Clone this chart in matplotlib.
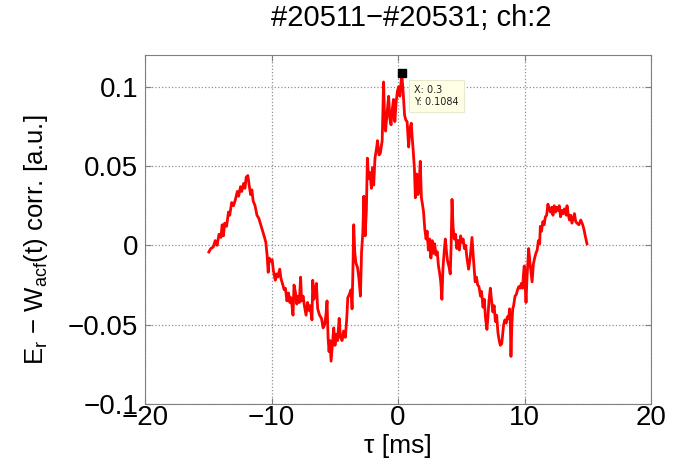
import matplotlib
matplotlib.use('Agg')
import matplotlib.pyplot as plt

# lag [ms] and correlation
tau = [-14.95, -14.8, -14.6, -14.45, -14.3, -14.15, -14.0, -13.9, -13.8, -13.7,
       -13.55, -13.4, -13.3, -13.15, -13.0, -12.85, -12.7, -12.6, -12.45, -12.35,
       -12.2, -12.1, -12.0, -11.87, -11.75, -11.65, -11.55, -11.45, -11.3, -11.15,
       -11.0, -10.85, -10.7, -10.55, -10.45, -10.35, -10.26, -10.18, -10.05, -9.95,
       -9.85, -9.7, -9.6, -9.5, -9.35, -9.25, -9.1, -9.0, -8.9, -8.78,
       -8.65, -8.55, -8.45, -8.3, -8.22, -8.1, -8.0, -7.9, -7.8, -7.7,
       -7.62, -7.5, -7.4, -7.27, -7.15, -7.05, -6.95, -6.8, -6.74, -6.65,
       -6.55, -6.45, -6.35, -6.2, -6.05, -5.92, -5.8, -5.7, -5.61, -5.53,
       -5.45, -5.38, -5.29, -5.2, -5.08, -4.98, -4.88, -4.78, -4.65, -4.55,
       -4.42, -4.3, -4.16, -4.05, -3.97, -3.85, -3.71, -3.63, -3.56, -3.5,
       -3.42, -3.33, -3.2, -3.1, -2.97, -2.88, -2.78, -2.7, -2.6, -2.5,
       -2.42, -2.32, -2.22, -2.1, -2.0, -1.92, -1.82, -1.7, -1.62, -1.5,
       -1.4, -1.25, -1.14, -1.05, -0.98, -0.88, -0.74, -0.65, -0.55, -0.45,
       -0.35, -0.25, -0.15, -0.05, 0.05, 0.15, 0.3, 0.42, 0.52, 0.62,
       0.72, 0.84, 0.95, 1.05, 1.12, 1.2, 1.3, 1.37, 1.48, 1.58,
       1.68, 1.76, 1.85, 1.95, 2.02, 2.12, 2.22, 2.3, 2.4, 2.5,
       2.6, 2.7, 2.8, 2.9, 3.0, 3.1, 3.2, 3.3, 3.38, 3.47,
       3.55, 3.65, 3.74, 3.82, 3.92, 4.02, 4.13, 4.2, 4.27, 4.35,
       4.45, 4.55, 4.65, 4.75, 4.85, 4.95, 5.05, 5.15, 5.25, 5.35,
       5.45, 5.58, 5.7, 5.85, 5.95, 6.1, 6.2, 6.3, 6.4, 6.52,
       6.6, 6.72, 6.82, 6.92, 7.03, 7.12, 7.2, 7.3, 7.4, 7.5,
       7.6, 7.7, 7.8, 7.9, 8.0, 8.09, 8.2, 8.35, 8.45, 8.55,
       8.65, 8.75, 8.82, 8.88, 8.93, 9.0, 9.07, 9.14, 9.25, 9.35,
       9.45, 9.55, 9.65, 9.75, 9.85, 9.92, 9.98, 10.05, 10.12, 10.2,
       10.33, 10.42, 10.52, 10.6, 10.7, 10.8, 10.9, 11.0, 11.1, 11.2,
       11.25, 11.35, 11.45, 11.55, 11.65, 11.75, 11.85, 11.95, 12.05, 12.15,
       12.25, 12.35, 12.45, 12.55, 12.65, 12.75, 12.85, 12.95, 13.05, 13.15,
       13.3, 13.36, 13.45, 13.55, 13.65, 13.75, 13.85, 13.95, 14.05, 14.15,
       14.3, 14.45, 14.6, 14.7, 14.8, 14.94]
corr = [-0.0042, -0.002, -0.001, 0.003, 0.0, 0.007, 0.005, 0.013, 0.006, 0.014,
        0.012, 0.021, 0.019, 0.027, 0.025, 0.029, 0.034, 0.031, 0.037, 0.034,
        0.039, 0.036, 0.043, 0.044, 0.037, 0.032, 0.035, 0.028, 0.025, 0.019,
        0.017, 0.013, 0.009, 0.005, 0.002, -0.006, -0.017, -0.008, -0.010, -0.009,
        -0.016, -0.022, -0.018, -0.020, -0.015, -0.021, -0.025, -0.028, -0.027, -0.035,
        -0.030, -0.036, -0.033, -0.044, -0.025, -0.030, -0.037, -0.032, -0.036, -0.020,
        -0.035, -0.032, -0.038, -0.044, -0.036, -0.041, -0.038, -0.047, -0.022, -0.034,
        -0.028, -0.024, -0.040, -0.044, -0.046, -0.052, -0.050, -0.044, -0.035, -0.058,
        -0.067, -0.060, -0.073, -0.064, -0.052, -0.063, -0.056, -0.060, -0.046, -0.058,
        -0.060, -0.054, -0.058, -0.046, -0.033, -0.031, -0.028, -0.040, -0.014, 0.013,
        -0.004, -0.011, -0.014, -0.020, -0.032, -0.004, 0.008, 0.031, 0.006, 0.022,
        0.055, 0.042, 0.046, 0.036, 0.049, 0.038, 0.055, 0.061, 0.066, 0.057,
        0.058, 0.066, 0.103, 0.076, 0.072, 0.082, 0.094, 0.080, 0.076, 0.086,
        0.092, 0.078, 0.090, 0.097, 0.100, 0.094, 0.1084, 0.095, 0.082, 0.079,
        0.078, 0.062, 0.074, 0.077, 0.068, 0.060, 0.048, 0.030, 0.045, 0.032,
        0.040, 0.053, 0.030, 0.025, 0.021, 0.010, 0.004, 0.009, -0.003, 0.004,
        -0.008, 0.003, -0.005, 0.001, -0.006, -0.004, -0.013, -0.018, -0.023, -0.034,
        -0.015, -0.004, 0.004, -0.003, -0.010, -0.013, -0.018, 0.0, 0.029, 0.012,
        0.004, 0.007, -0.002, 0.003, -0.003, 0.006, 0.002, 0.004, -0.002, 0.0,
        -0.008, -0.015, -0.008, 0.005, -0.007, -0.023, -0.020, -0.025, -0.026, -0.032,
        -0.029, -0.039, -0.034, -0.046, -0.053, -0.044, -0.034, -0.027, -0.035, -0.042,
        -0.038, -0.048, -0.044, -0.055, -0.060, -0.063, -0.062, -0.050, -0.047, -0.049,
        -0.045, -0.046, -0.040, -0.050, -0.070, -0.050, -0.040, -0.038, -0.032, -0.031,
        -0.028, -0.026, -0.027, -0.024, -0.027, -0.018, -0.013, -0.025, -0.036, -0.020,
        -0.002, -0.010, -0.017, -0.023, -0.012, -0.008, -0.005, -0.003, 0.003, 0.001,
        0.012, 0.009, 0.015, 0.013, 0.018, 0.019, 0.026, 0.023, 0.021, 0.024,
        0.019, 0.025, 0.021, 0.024, 0.022, 0.025, 0.018, 0.022, 0.020, 0.023,
        0.019, 0.025, 0.020, 0.016, 0.019, 0.014, 0.017, 0.020, 0.015, 0.014,
        0.013, 0.016, 0.013, 0.010, 0.006, 0.001]

xticks = [-20, -10, 0, 10, 20]
xticklabels = ['\u221220', '\u221210', '0', '10', '20']
yticks = [-0.1, -0.05, 0, 0.05, 0.1]
yticklabels = ['\u22120.1', '\u22120.05', '0', '0.05', '0.1']
tip_x, tip_y = 0.3, 0.1084

plt.rcParams['font.family'] = ['Liberation Sans', 'DejaVu Sans']
plt.rcParams['mathtext.fontset'] = 'custom'
plt.rcParams['mathtext.rm'] = 'Liberation Sans'

fig = plt.figure(figsize=(6.87, 4.71), dpi=100)
ax = fig.add_axes([145/687, 1-404/471, 506/687, 349/471])

ax.plot(tau, corr, color='red', lw=2)
ax.plot([tip_x], [tip_y], 's', color='black', ms=6, zorder=5)
ax.annotate('X: 0.3\nY: 0.1084', xy=(tip_x, tip_y), xytext=(9, -8),
            textcoords='offset points', ha='left', va='top', fontsize=7,
            family='DejaVu Sans', color='#202020', linespacing=1.35,
            bbox=dict(boxstyle='square,pad=0.5', fc='#ffffe6', ec='#e8e8d0', lw=0.8))

ax.set_xlim(-20, 20)
ax.set_ylim(-0.1, 0.12)
ax.set_xticks(xticks)
ax.set_xticklabels(xticklabels)
ax.set_yticks(yticks)
ax.set_yticklabels(yticklabels)
ax.tick_params(axis='both', direction='in', length=4, labelsize=20, color='#808080',
               top=True, right=True)
ax.tick_params(axis='x', pad=1)
ax.tick_params(axis='y', pad=5)
ax.grid(True, ls=':', color='#909090', lw=0.9)
for s in ax.spines.values():
    s.set_color('#808080')

ax.set_xlabel('\u03c4 [ms]', fontsize=19, labelpad=2)
ax.set_ylabel('E$_\\mathrm{r}$ \u2212 W$_\\mathrm{acf}$(t) corr. [a.u.]', fontsize=18.5)
ax.yaxis.set_label_coords(-0.188, 0.47)
fig.text(411/687, 1-18/471, '#20511\u2212#20531; ch:2', fontsize=21,
         ha='center', va='center')

fig.savefig('out.png', dpi=100)
